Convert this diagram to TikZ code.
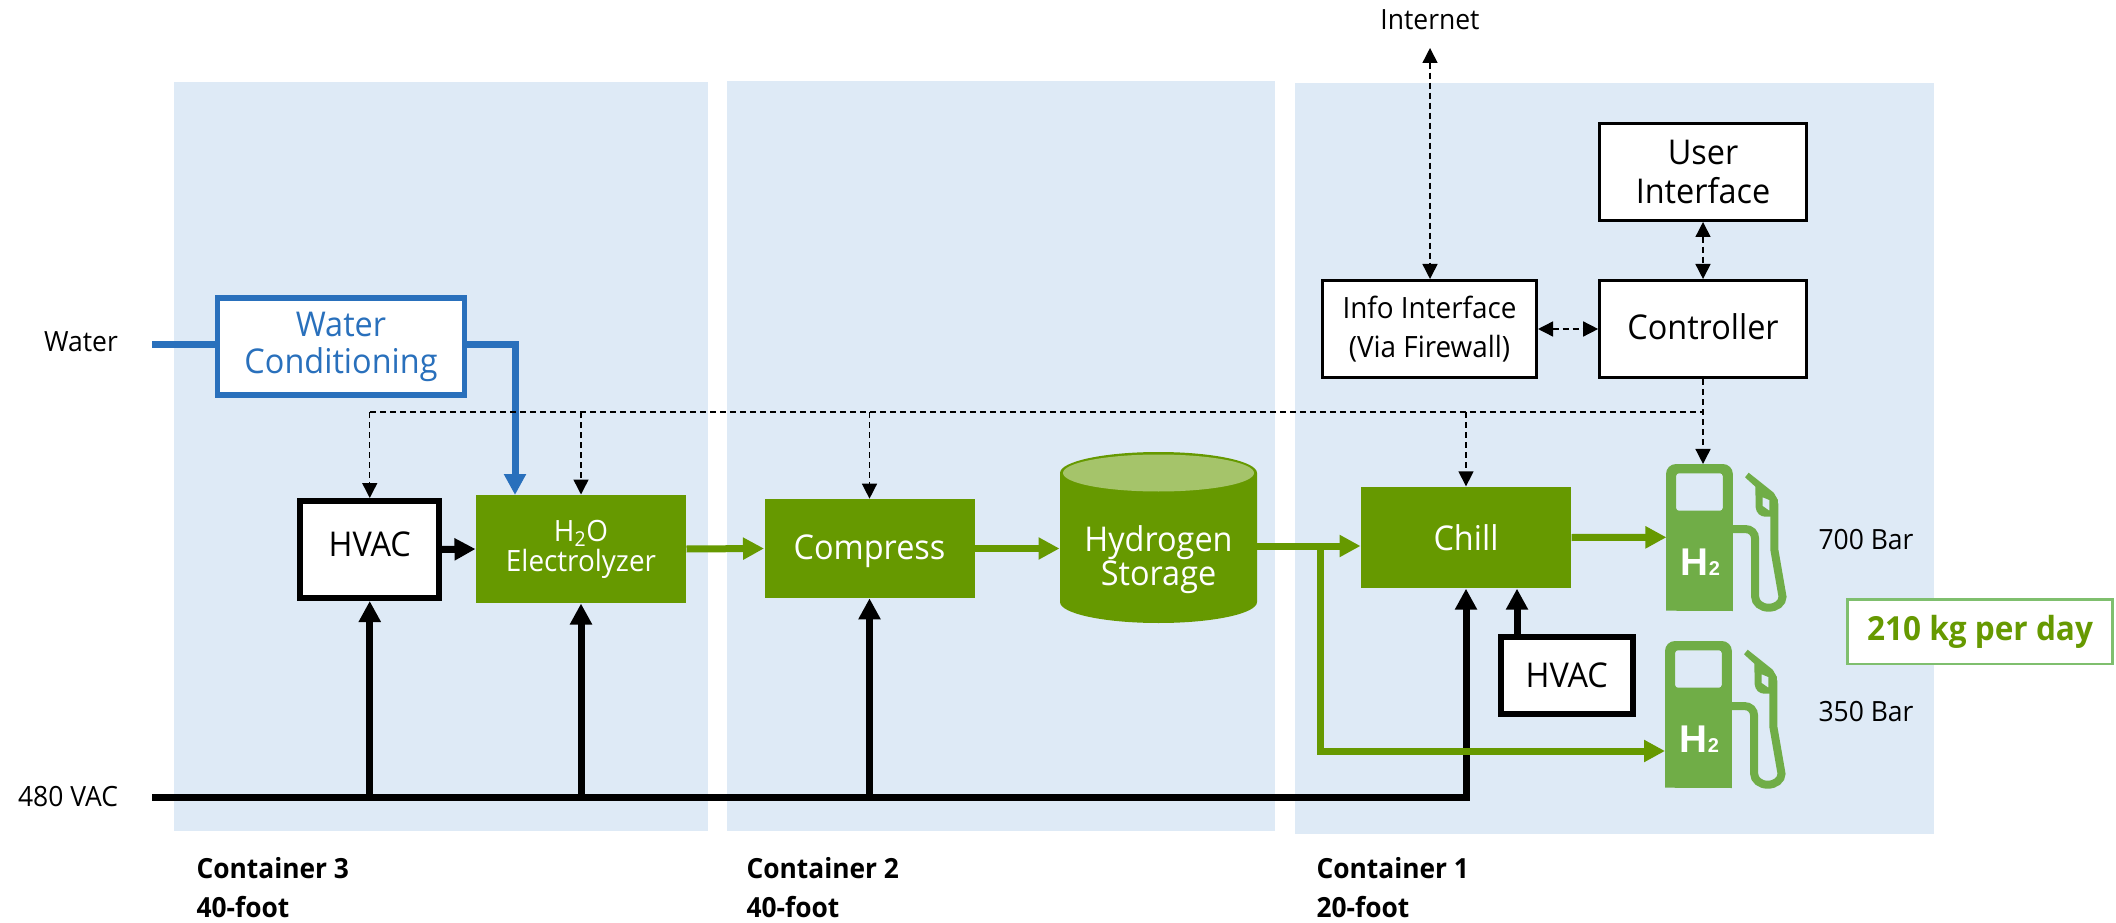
\documentclass[tikz,border=0pt]{standalone}
\usepackage{fontspec}
\setmainfont{Open Sans}[FakeStretch=0.95]
\newfontfamily\pumpfont{Liberation Sans}
\usetikzlibrary{arrows.meta}

\definecolor{contblue}{HTML}{DEEAF6}
\definecolor{procgreen}{HTML}{669900}
\definecolor{pumpgreen}{HTML}{70AD47}
\definecolor{ratedge}{HTML}{7FBF6E}
\definecolor{capgreen}{HTML}{A5C46A}
\definecolor{waterblue}{HTML}{2970BC}

\newcommand{\fsz}[2]{\fontsize{#1}{#2}\selectfont}

\tikzset{every picture/.style={line width=0.75pt}}
\tikzset{
  container/.style={fill=contblue,draw=none},
  lbl/.style={font=\fsz{20.9}{24},align=center,inner sep=0pt},
  contlbl/.style={font=\bfseries\fsz{20.8}{29},align=left,anchor=west,inner sep=0pt},
  procbox/.style={fill=procgreen,text=white,inner sep=0pt,align=center,minimum width=157.5pt,font=\fsz{25.6}{28}},
  heavybox/.style={draw=black,fill=white,line width=4.5pt,inner sep=0pt,align=center,font=\fsz{25.6}{29}},
  ctrlbox/.style={draw=black,fill=white,line width=2.25pt,inner sep=0pt,align=center,minimum height=72.75pt,font=\fsz{25.6}{29}},
  bigtip/.style={-{Triangle[length=15.75pt,width=15.75pt]}},
  smalltip/.style={-{Triangle[length=11.25pt,width=11.25pt]}},
  bothtip/.style={{Triangle[length=11.25pt,width=11.25pt]}-{Triangle[length=11.25pt,width=11.25pt]}},
  powerline/.style={draw=black,line width=5.25pt},
  gasline/.style={draw=procgreen,line width=5.25pt},
  waterline/.style={draw=waterblue,line width=5.25pt},
  ctrlline/.style={draw=black,line width=1.1pt,dash pattern=on 4.5pt off 3pt},
  hpump/.pic={
    \fill[pumpgreen,even odd rule] (0,146.7) [rounded corners=7.5pt] -- (0,0) -- (66,0) [sharp corners] -- (66,147) -- cycle
      [rounded corners=2pt] (10,9.3) -- (56,9.3) -- (56,46.7) -- (10,46.7) -- cycle ;
    \fill[pumpgreen,even odd rule] (81.6,8.7) -- (78,13.3) -- (88.2,22.7) -- (88.5,43.3) .. controls (89,49) and (93,52.7) .. (98,52.7) -- (103.6,52.7) -- (110.5,39.3) -- (110.5,36) -- (106.3,28.7) -- cycle
      (95.4,33.3) -- (102,36) -- (102,46.7) -- (95.4,42) -- cycle ;
    \draw[pumpgreen,line width=6pt] (66,65) -- (78,65) .. controls (84,65) and (88,69) .. (88,75) -- (88,132.7) .. controls (88,139) and (94,143.7) .. (101.3,143.7) .. controls (109,143.7) and (115,139) .. (115,132.7) -- (107,86) -- (107,39.3) ;
    \node (-body) at (33,73.3) [minimum width=49.5pt,minimum height=110pt,inner sep=0pt,outer sep=0pt] {};
    \node (-gas) at (34,98) [text=white,inner sep=0pt] {\pumpfont\bfseries\fsz{29}{29}H\fsz{15}{15}2};
  }
}

\begin{document}
\begin{tikzpicture}[x=0.75pt,y=0.75pt,yscale=-1,xscale=1]
\useasboundingbox (0,0) rectangle (2116,923);

%Shape: Rectangle
\fill[container] (174,82) rectangle (708,831);
\fill[container] (727,81) rectangle (1275,831);
\fill[container] (1295,83) rectangle (1934,834);

%Shape: Can
\fill[procgreen] (1060,473) -- (1060,602) .. controls (1060,613.6) and (1104.1,623) .. (1158.5,623) .. controls (1212.9,623) and (1257,613.6) .. (1257,602) -- (1257,473) .. controls (1257,461.4) and (1212.9,452) .. (1158.5,452) .. controls (1104.1,452) and (1060,461.4) .. (1060,473) -- cycle ;
\fill[capgreen] (1158.5,473) ellipse [x radius=95.5,y radius=18.5];

%Shape: Rectangle
\node (waterbox) at (341,346.5) [draw=waterblue,fill=white,line width=4.1pt,minimum width=185pt,minimum height=73pt,inner sep=0pt,align=center,text=waterblue,font=\fsz{25.6}{27.75}] {Water\\Conditioning};
\node (hvaca) at (369.75,549.5) [heavybox,minimum width=104pt,minimum height=72.75pt,text depth=7.5pt] {HVAC};
\node (elec) at (581,549) [procbox,minimum height=81pt,font=\fsz{22}{22.5}] {H\textsubscript{2}O\\Electrolyzer};
\node (compress) at (869.5,548.5) [procbox,minimum height=74pt,text height=23pt] {Compress};
\node (hstore) at (1158.5,560) [minimum width=147.75pt,inner sep=0pt,align=center,text=white,font=\fsz{25.6}{22.5}] {Hydrogen\\Storage};
\node (chill) at (1466,537.5) [procbox,minimum height=76pt] {Chill};
\node (hvacb) at (1566.75,675.5) [heavybox,minimum width=98.6pt,minimum height=57.75pt] {HVAC};
\node (info) at (1429.5,329) [ctrlbox,minimum width=160.5pt,font=\fsz{22}{29}] {Info Interface\\(Via Firewall)};
\node (user) at (1703,172) [ctrlbox,minimum width=155pt] {User\\Interface};
\node (ctrl) at (1703,329) [ctrlbox,minimum width=155pt,text depth=3.8pt] {Controller};
\pic[yscale=-1,xscale=1.013] (pumpa) at (1666,464) {hpump};
\pic[yscale=-1,xscale=1.013] (pumpb) at (1665,641) {hpump};

%Straight Lines
\coordinate (busin) at (152,797);
\coordinate (waterin) at (152,345);
\coordinate (hvacout) at (1517,634);
\coordinate (storeout) at (1257,546);
\coordinate (pumpbin) at (1665,751);
\coordinate (ctrltap) at (1703,412);
\coordinate (netout) at (1430,48);

\draw[powerline,bigtip] (busin) -| (chill.south);
\draw[powerline,bigtip] (hvaca.south |- busin) -- (hvaca.south);
\draw[powerline,bigtip] (elec.south |- busin) -- (elec.south);
\draw[powerline,bigtip] (compress.south |- busin) -- (compress.south);
\draw[powerline,bigtip] (hvacout) -- (hvacout |- chill.south);
\draw[powerline,bigtip] (hvaca.east) -- (elec.west);

\draw[waterline] (waterin) -- (waterin -| waterbox.west);
\draw[waterline,bigtip] (waterbox.east |- waterin) -| (515,495);

\draw[gasline,bigtip] (elec.east) -- (compress.west);
\draw[gasline,bigtip] (compress.east) -- (hstore.west |- compress.east);
\draw[gasline,bigtip] (storeout) -- (storeout -| chill.west);
\draw[gasline,bigtip] (chill.east) -- (pumpa-body.west);
\draw[gasline,bigtip] (1320,546) |- (pumpbin);

\draw[ctrlline] (hvaca.north |- ctrltap) -- (ctrltap);
\draw[ctrlline,smalltip] (hvaca.north |- ctrltap) -- (hvaca.north);
\draw[ctrlline,smalltip] (elec.north |- ctrltap) -- (elec.north);
\draw[ctrlline,smalltip] (compress.north |- ctrltap) -- (compress.north);
\draw[ctrlline,smalltip] (chill.north |- ctrltap) -- (chill.north);
\draw[ctrlline,smalltip] (ctrl.south) -- (ctrl.south |- pumpa-body.north);
\draw[ctrlline,bothtip] (netout) -- (info.north -| netout);
\draw[ctrlline,bothtip] (info.east) -- (ctrl.west);
\draw[ctrlline,bothtip] (user.south) -- (ctrl.north);

% Text Node
\node (lblwater) at (81,342) [lbl] {Water};
\node (lblvac) at (68,797) [lbl] {480 VAC};
\node (lblnet) at (1430,20) [lbl] {Internet};
\node (lblhigh) at (1866,540) [lbl] {700 Bar};
\node (lbllow) at (1866,712) [lbl] {350 Bar};
\node (rate) at (1980,631.5) [draw=ratedge,fill=white,line width=1.9pt,minimum width=199pt,minimum height=48.4pt,inner sep=0pt,text=procgreen,font=\bfseries\fsz{24.9}{25}] {210 kg per day};
\node (lblthree) at (196,887.5) [contlbl] {Container 3\\40-foot};
\node (lbltwo) at (746,887.5) [contlbl] {Container 2\\40-foot};
\node (lblone) at (1316,887.5) [contlbl] {Container 1\\20-foot};

\end{tikzpicture}
\end{document}
